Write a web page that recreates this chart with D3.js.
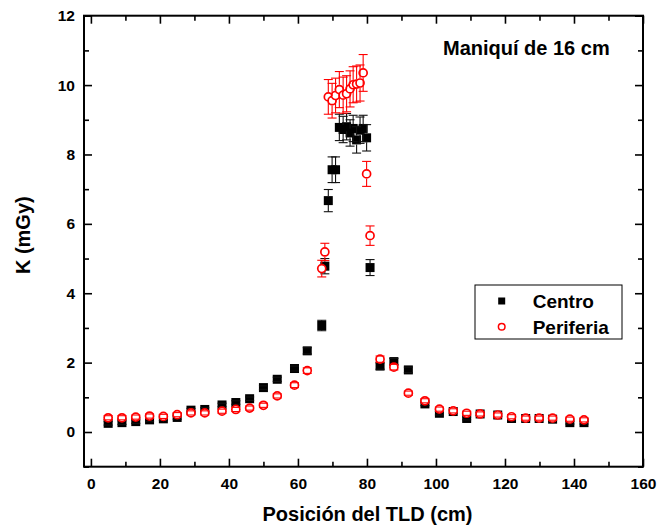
<!DOCTYPE html>
<html>
<head>
<meta charset="utf-8">
<script src="https://cdn.jsdelivr.net/npm/d3@7"></script>
<style>
  html, body { margin: 0; padding: 0; background: #fff; }
  svg { display: block; font-family: "Liberation Sans", Arial, sans-serif; font-weight: bold; }
</style>
</head>
<body>
<svg id="chart" width="657" height="529"></svg>
<script>
// TLD positions along the phantom (cm)
const positions = [5, 9, 13, 17, 21, 25, 29, 33, 38, 42, 46, 50, 54, 59, 62.7,
  66.9, 67.8, 68.8, 69.9, 70.9, 72.0, 73.1, 74.1, 75.1, 76.0, 77.0, 78.0, 78.9, 79.9, 80.9,
  83.8, 87.8, 92, 96.8, 101, 105, 108.9, 112.8, 117.9, 121.9, 126, 129.9, 133.8, 138.8, 142.9];

// Air kerma at the centre of the phantom (mGy) and its uncertainty
const centro = [0.25, 0.27, 0.30, 0.35, 0.38, 0.42, 0.63, 0.65, 0.78, 0.85, 0.96, 1.28, 1.52, 1.83, 2.34,
  3.07, 4.78, 6.67, 7.56, 7.56, 8.78, 8.72, 8.80, 8.62, 8.75, 8.42, 8.70, 8.75, 8.48, 4.74,
  1.90, 2.03, 1.79, 0.81, 0.54, 0.59, 0.39, 0.52, 0.49, 0.39, 0.39, 0.39, 0.37, 0.27, 0.27];
const centroErr = [0.05, 0.05, 0.05, 0.05, 0.05, 0.05, 0.05, 0.05, 0.05, 0.05, 0.05, 0.05, 0.06, 0.07, 0.09,
  0.15, 0.22, 0.32, 0.37, 0.37, 0.38, 0.38, 0.38, 0.38, 0.38, 0.38, 0.38, 0.38, 0.38, 0.23,
  0.09, 0.09, 0.08, 0.05, 0.05, 0.05, 0.04, 0.04, 0.04, 0.04, 0.04, 0.04, 0.04, 0.04, 0.04];

// Air kerma at the periphery of the phantom (mGy) and its uncertainty
const periferia = [0.41, 0.41, 0.43, 0.46, 0.45, 0.50, 0.55, 0.55, 0.60, 0.65, 0.69, 0.77, 1.04, 1.35, 1.77,
  4.71, 5.19, 9.66, 9.55, 9.70, 9.87, 9.71, 9.75, 9.89, 10.01, 10.03, 10.06, 10.35, 7.44, 5.66,
  2.10, 1.87, 1.12, 0.90, 0.66, 0.61, 0.54, 0.52, 0.49, 0.44, 0.40, 0.40, 0.40, 0.37, 0.35];
const periferiaErr = [0.06, 0.06, 0.06, 0.06, 0.06, 0.06, 0.06, 0.06, 0.06, 0.06, 0.06, 0.06, 0.06, 0.07, 0.08,
  0.24, 0.25, 0.50, 0.50, 0.50, 0.52, 0.52, 0.52, 0.52, 0.52, 0.52, 0.52, 0.53, 0.36, 0.28,
  0.09, 0.08, 0.06, 0.06, 0.06, 0.06, 0.06, 0.06, 0.06, 0.06, 0.06, 0.06, 0.06, 0.06, 0.06];

// Axis ticks
const xTicks = [0, 20, 40, 60, 80, 100, 120, 140, 160];
const xMinorTicks = [10, 30, 50, 70, 90, 110, 130, 150];
const yTicks = [0, 2, 4, 6, 8, 10, 12];
const yMinorTicks = [-1, 1, 3, 5, 7, 9, 11];

const title = "Maniquí de 16 cm";
const xTitle = "Posición del TLD (cm)";
const yTitle = "K (mGy)";
const seriesNames = ["Centro", "Periferia"];

const margin = { top: 15.7, right: 14, bottom: 62.3, left: 84 };
const W = 657, H = 529;
const iw = W - margin.left - margin.right;
const ih = H - margin.top - margin.bottom;

const svg = d3.select("#chart");
const g = svg.append("g").attr("transform", `translate(${margin.left},${margin.top})`);

const x = d3.scaleLinear().domain([-2, 160]).range([0, iw]);
const y = d3.scaleLinear().domain([-1, 12]).range([ih, 0]);

const MAJ = 8, MIN = 5;

function styleAxis(sel) {
  sel.select(".domain").remove();
  sel.selectAll(".tick line").attr("stroke", "#000").attr("stroke-width", 1.6);
  sel.selectAll(".tick text").attr("fill", "#000").style("font-size", "15.5px").style("font-weight", "bold");
}

// bottom axis with labels, inward ticks
g.append("g").attr("transform", `translate(0,${ih})`)
  .call(d3.axisBottom(x).tickValues(xTicks).tickSizeInner(-MAJ).tickSizeOuter(0).tickPadding(11).tickFormat(d3.format("d")))
  .call(styleAxis);
g.append("g").attr("transform", `translate(0,${ih})`)
  .call(d3.axisBottom(x).tickValues(xMinorTicks).tickSizeInner(-MIN).tickSizeOuter(0).tickFormat(""))
  .call(styleAxis);
// top axis: ticks only
g.append("g")
  .call(d3.axisTop(x).tickValues(xTicks).tickSizeInner(-MAJ).tickSizeOuter(0).tickFormat(""))
  .call(styleAxis);
g.append("g")
  .call(d3.axisTop(x).tickValues(xMinorTicks).tickSizeInner(-MIN).tickSizeOuter(0).tickFormat(""))
  .call(styleAxis);
// left axis with labels
g.append("g")
  .call(d3.axisLeft(y).tickValues(yTicks).tickSizeInner(-MAJ).tickSizeOuter(0).tickPadding(9).tickFormat(d3.format("d")))
  .call(styleAxis);
g.append("g")
  .call(d3.axisLeft(y).tickValues(yMinorTicks).tickSizeInner(-MIN).tickSizeOuter(0).tickFormat(""))
  .call(styleAxis);
// right axis: ticks only
g.append("g").attr("transform", `translate(${iw},0)`)
  .call(d3.axisRight(y).tickValues(yTicks).tickSizeInner(-MAJ).tickSizeOuter(0).tickFormat(""))
  .call(styleAxis);
g.append("g").attr("transform", `translate(${iw},0)`)
  .call(d3.axisRight(y).tickValues(yMinorTicks).tickSizeInner(-MIN).tickSizeOuter(0).tickFormat(""))
  .call(styleAxis);

// plot frame
g.append("rect").attr("x", 0).attr("y", 0).attr("width", iw).attr("height", ih)
  .attr("fill", "none").attr("stroke", "#000").attr("stroke-width", 2);

// error bars: whiskers start at the marker edge, caps always drawn
function errorBars(layer, vals, errs, color, gap) {
  const capW = 4.5;
  const rows = positions.map((p, i) => ({ p, v: vals[i], e: errs[i] }));
  const eb = layer.append("g").attr("stroke", color).attr("stroke-width", 1.1).attr("fill", "none");
  rows.forEach(d => {
    const cx = x(d.p), cy = y(d.v), top = y(d.v + d.e), bot = y(d.v - d.e);
    if (top < cy - gap) eb.append("line").attr("x1", cx).attr("x2", cx).attr("y1", top).attr("y2", cy - gap);
    if (bot > cy + gap) eb.append("line").attr("x1", cx).attr("x2", cx).attr("y1", cy + gap).attr("y2", bot);
    eb.append("line").attr("x1", cx - capW).attr("x2", cx + capW).attr("y1", top).attr("y2", top);
    eb.append("line").attr("x1", cx - capW).attr("x2", cx + capW).attr("y1", bot).attr("y2", bot);
  });
}

// Centro: filled black squares
const SQ = 9;
const sqLayer = g.append("g");
sqLayer.selectAll("rect").data(positions.map((p, i) => ({ p, v: centro[i] })))
  .join("rect")
  .attr("x", d => x(d.p) - SQ / 2).attr("y", d => y(d.v) - SQ / 2)
  .attr("width", SQ).attr("height", SQ).attr("fill", "#000");
errorBars(sqLayer, centro, centroErr, "#111", SQ / 2);

// Periferia: open red circles
const R = 4;
const ciLayer = g.append("g");
ciLayer.selectAll("circle").data(positions.map((p, i) => ({ p, v: periferia[i] })))
  .join("circle")
  .attr("cx", d => x(d.p)).attr("cy", d => y(d.v)).attr("r", R)
  .attr("fill", "#fff").attr("stroke", "#ff0000").attr("stroke-width", 1.7);
errorBars(ciLayer, periferia, periferiaErr, "#ff0000", R + 0.8);

// title inside the plot
svg.append("text").attr("x", 443).attr("y", 55).text(title)
  .style("font-size", "20px").attr("fill", "#000");

// axis titles
svg.append("text").attr("x", margin.left + iw / 2 + 4).attr("y", 521)
  .attr("text-anchor", "middle").style("font-size", "20px").text(xTitle);
svg.append("text").attr("transform", `translate(30,${margin.top + ih / 2 - 6}) rotate(-90)`)
  .attr("text-anchor", "middle").style("font-size", "20px").text(yTitle);

// legend
const lg = svg.append("g");
lg.append("rect").attr("x", 475).attr("y", 285).attr("width", 147).attr("height", 54)
  .attr("fill", "#fff").attr("stroke", "#000").attr("stroke-width", 1);
lg.append("rect").attr("x", 501.7 - 3.5).attr("y", 301 - 3.5).attr("width", 7).attr("height", 7).attr("fill", "#000");
lg.append("circle").attr("cx", 501.7).attr("cy", 326.7).attr("r", 3.3)
  .attr("fill", "#fff").attr("stroke", "#ff0000").attr("stroke-width", 1.5);
lg.append("text").attr("x", 532.7).attr("y", 307.5).style("font-size", "19px").text(seriesNames[0]);
lg.append("text").attr("x", 532.7).attr("y", 333.5).style("font-size", "19px").text(seriesNames[1]);
</script>
</body>
</html>
